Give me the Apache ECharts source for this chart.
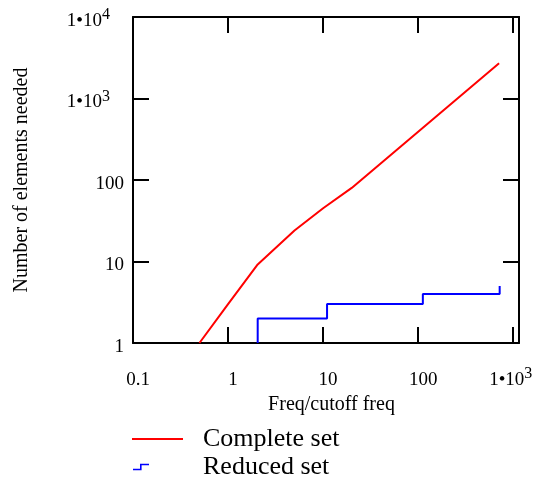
<!DOCTYPE html>
<html><head><meta charset="utf-8">
<script src="https://cdn.jsdelivr.net/npm/echarts@6/dist/echarts.min.js"></script>
<style>html,body{margin:0;padding:0;background:#fff}#c{width:536px;height:487px}</style>
</head><body><div id="c"></div>
<script>
// ---- data ----
const completeX = [0.5, 1, 2.05, 5, 10, 20, 710];
const completeY = [1, 3, 9.2, 24, 45, 80, 2700];
const reducedX = [2.05, 2.05, 11, 11, 112, 112, 720, 720];
const reducedY = [1, 2, 2, 3, 3, 4, 4, 5];
const xTickExps = [-1, 0, 1, 2, 3];
const xTickLabels = ['0.1', '1', '10', '100', '1•10^3'];
const yTickExps = [0, 1, 2, 3, 4];
const yTickLabels = ['1', '10', '100', '1•10^3', '1•10^4'];
const seriesNames = ['Complete set', 'Reduced set'];
const xTitle = 'Freq/cutoff freq';
const yTitle = 'Number of elements needed';

const FONT = '"Liberation Serif", "Times New Roman", serif';

function toRichX(lbl) {
  const i = lbl.indexOf('^');
  if (i < 0) return '{q|}{m|' + lbl + '}';
  return '{m|' + lbl.slice(0, i) + '}{s|' + lbl.slice(i + 1) + '}{r|}';
}
function toRichY(lbl) {
  const i = lbl.indexOf('^');
  if (i < 0) return '{m|' + lbl + '}';
  return '{m|' + lbl.slice(0, i) + '}{s|' + lbl.slice(i + 1) + '}{p|}';
}
function fmt(exps, labels, conv) {
  return function (v) {
    const e = Math.log10(v);
    const r = Math.round(e);
    if (Math.abs(e - r) > 1e-6) return '';
    const k = exps.indexOf(r);
    return k < 0 ? '' : conv(labels[k]);
  };
}
const richStyle = {
  m: { fontFamily: FONT, fontSize: 19, color: '#000', lineHeight: 28 },
  s: { fontFamily: FONT, fontSize: 16, color: '#000', padding: [0, 0, 12, 0] },
  p: { width: 14 },
  q: { width: 10 },
  r: { width: 5 }
};

const chart = echarts.init(document.getElementById('c'), null, { renderer: 'canvas' });
const axisLineStyle = { color: '#000', width: 2 };
const xBase = {
  type: 'log', logBase: 10, min: 0.1, max: 1150, gridIndex: 0,
  axisLine: { show: true, lineStyle: axisLineStyle },
  axisTick: { show: true, inside: true, length: 16, lineStyle: axisLineStyle },
  splitLine: { show: false }, minorTick: { show: false }, minorSplitLine: { show: false }
};
const yBase = {
  type: 'log', logBase: 10, min: 1, max: 10000, gridIndex: 0,
  axisLine: { show: true, lineStyle: axisLineStyle },
  axisTick: { show: true, inside: true, length: 16, lineStyle: axisLineStyle },
  splitLine: { show: false }, minorTick: { show: false }, minorSplitLine: { show: false }
};

chart.setOption({
  animation: false,
  backgroundColor: '#fff',
  grid: { left: 133, top: 17, width: 386, height: 326, containLabel: false, outerBoundsMode: 'none' },
  xAxis: [
    Object.assign({}, xBase, {
      position: 'bottom',
      axisLabel: { show: true, formatter: fmt(xTickExps, xTickLabels, toRichX), margin: 23,
        rich: richStyle, showMinLabel: true, showMaxLabel: true, hideOverlap: false },
      name: xTitle, nameLocation: 'middle', nameGap: 46,
      nameTextStyle: { fontFamily: FONT, fontSize: 20, color: '#000', padding: [0, 0, 0, 11] }
    }),
    Object.assign({}, xBase, { position: 'top', axisLabel: { show: false } })
  ],
  yAxis: [
    Object.assign({}, yBase, {
      position: 'left',
      axisLabel: { show: true, formatter: fmt(yTickExps, yTickLabels, toRichY), margin: 9,
        padding: [8, 0, 0, 0], rich: richStyle, showMinLabel: true, showMaxLabel: true, hideOverlap: false },
      name: yTitle, nameLocation: 'middle', nameGap: 101,
      nameTextStyle: { fontFamily: FONT, fontSize: 20, color: '#000' }
    }),
    Object.assign({}, yBase, { position: 'right', axisLabel: { show: false } })
  ],
  legend: [
    {
      data: [{ name: seriesNames[0], icon: 'path://M0,0 L51,0 L51,1.8 L0,1.8 Z' }],
      left: 132, top: 426, itemWidth: 51, itemHeight: 1.8,
      selectedMode: false, padding: 0,
      itemStyle: { color: '#ff0000', borderWidth: 0 },
      formatter: n => '{g|}{t|' + n + '}',
      textStyle: { rich: { g: { width: 15 }, t: { fontFamily: FONT, fontSize: 26, color: '#000' } } }
    },
    {
      data: [{ name: seriesNames[1], icon: 'path://M0,5 L7,5 L7,0 L16,0 L16,1.6 L8.6,1.6 L8.6,6.6 L0,6.6 Z' }],
      left: 133, top: 454, itemWidth: 16, itemHeight: 6.6,
      selectedMode: false, padding: 0,
      itemStyle: { color: '#0000ff', borderWidth: 0 },
      formatter: n => '{g|}{t|' + n + '}',
      textStyle: { rich: { g: { width: 49 }, t: { fontFamily: FONT, fontSize: 26, color: '#000' } } }
    }
  ],
  series: [
    {
      type: 'line', name: seriesNames[0], xAxisIndex: 0, yAxisIndex: 0,
      data: completeX.map((x, i) => [x, completeY[i]]),
      symbol: 'none', lineStyle: { color: '#ff0000', width: 2 }, itemStyle: { color: '#ff0000' }
    },
    {
      type: 'line', name: seriesNames[1], xAxisIndex: 0, yAxisIndex: 0,
      data: reducedX.map((x, i) => [x, reducedY[i]]),
      symbol: 'none', lineStyle: { color: '#0000ff', width: 2 }, itemStyle: { color: '#0000ff' }
    }
  ]
});
</script>
</body></html>
